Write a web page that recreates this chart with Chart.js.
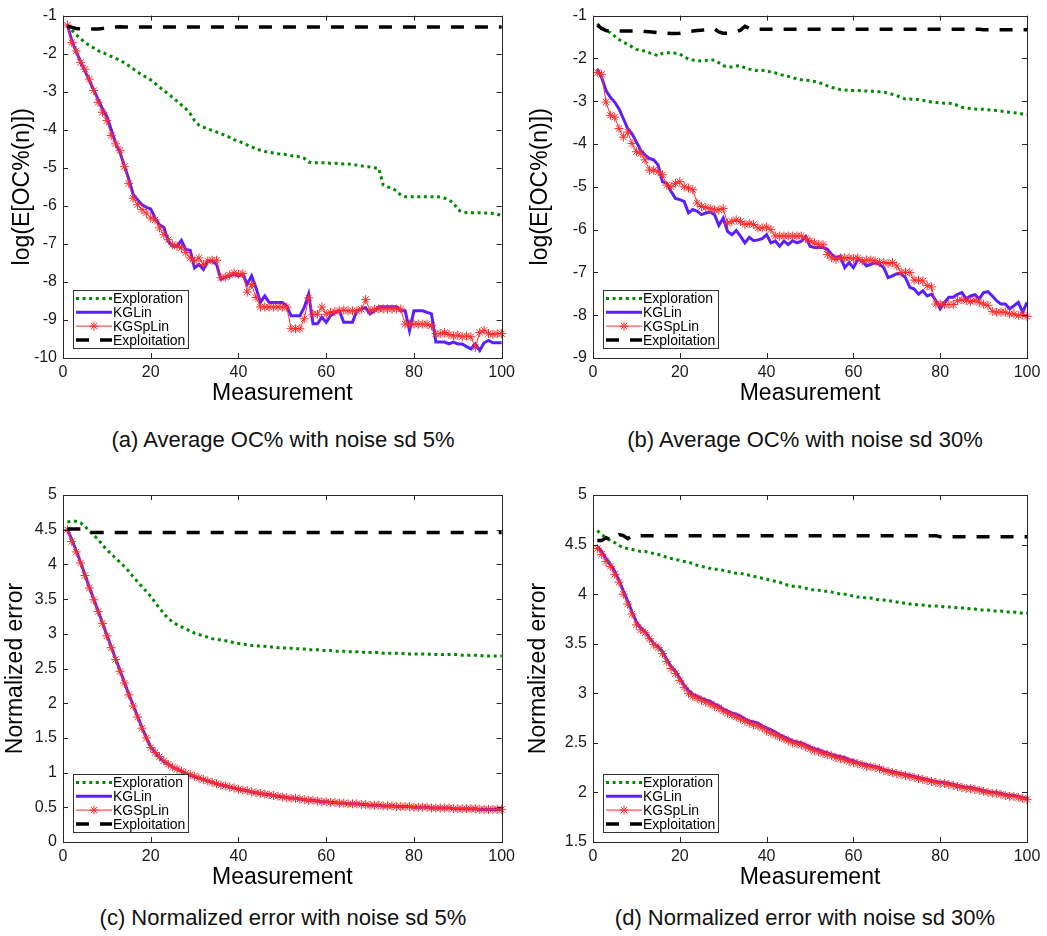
<!DOCTYPE html>
<html><head><meta charset="utf-8">
<script src="https://cdn.jsdelivr.net/npm/chart.js@4.4.0/dist/chart.umd.min.js"></script>
<style>
html,body{margin:0;padding:0;background:#fff;}
body{width:1047px;height:936px;position:relative;overflow:hidden;font-family:"Liberation Sans",Arial,sans-serif;}
.panel{position:absolute;}
.panel canvas{display:block;}
.cap{position:absolute;font-family:"Liberation Sans Narrow","Liberation Sans",sans-serif;font-size:22px;color:#111;white-space:nowrap;transform:translate(-50%,-50%);}
</style></head><body>
<div class="panel" style="left:0;top:0"><canvas id="ca" width="520" height="407"></canvas></div>
<div class="panel" style="left:520px;top:0"><canvas id="cb" width="527" height="407"></canvas></div>
<div class="panel" style="left:0;top:470px"><canvas id="cc" width="520" height="421"></canvas></div>
<div class="panel" style="left:520px;top:470px"><canvas id="cd" width="527" height="421"></canvas></div>
<div class="cap" style="left:283px;top:440px">(a) Average OC% with noise sd 5%</div>
<div class="cap" style="left:805px;top:440px">(b) Average OC% with noise sd 30%</div>
<div class="cap" style="left:283px;top:918px">(c) Normalized error with noise sd 5%</div>
<div class="cap" style="left:805px;top:918px">(d) Normalized error with noise sd 30%</div>
<script>
// ---------- categories / ticks ----------
const measurements = Array.from({length:100},(_,i)=>i+1);
const xTicks = [0,20,40,60,80,100];
const aYTicks = [-10,-9,-8,-7,-6,-5,-4,-3,-2,-1];
const bYTicks = [-9,-8,-7,-6,-5,-4,-3,-2,-1];
const cYTicks = [0,0.5,1,1.5,2,2.5,3,3.5,4,4.5,5];
const dYTicks = [1.5,2,2.5,3,3.5,4,4.5,5];
const seriesNames = ['Exploration','KGLin','KGSpLin','Exploitation'];

// ---------- (a) Average OC% with noise sd 5% ----------
const aExploration = [
-1.25,-1.38,-1.50,-1.60,-1.71,-1.78,-1.85,-1.92,-1.97,-2.02,
-2.07,-2.12,-2.18,-2.24,-2.32,-2.40,-2.48,-2.56,-2.62,-2.69,
-2.78,-2.88,-2.97,-3.06,-3.15,-3.25,-3.35,-3.45,-3.58,-3.76,
-3.88,-3.93,-3.98,-4.02,-4.06,-4.10,-4.15,-4.20,-4.26,-4.30,
-4.35,-4.40,-4.45,-4.50,-4.54,-4.57,-4.59,-4.61,-4.63,-4.64,
-4.66,-4.68,-4.70,-4.71,-4.75,-4.85,-4.87,-4.87,-4.87,-4.87,
-4.88,-4.88,-4.89,-4.90,-4.90,-4.91,-4.93,-4.95,-4.97,-4.98,
-5.00,-5.02,-5.45,-5.50,-5.54,-5.60,-5.72,-5.76,-5.76,-5.76,
-5.76,-5.76,-5.76,-5.76,-5.76,-5.77,-5.80,-5.85,-5.92,-6.10,
-6.16,-6.18,-6.18,-6.18,-6.18,-6.19,-6.19,-6.20,-6.22,-6.25];
const aKGLin = [
-1.25,-1.65,-1.95,-2.20,-2.45,-2.70,-2.95,-3.20,-3.45,-3.65,
-4.00,-4.35,-4.60,-4.95,-5.30,-5.70,-5.84,-5.97,-6.04,-6.08,
-6.32,-6.50,-6.57,-6.93,-7.06,-7.06,-6.91,-7.15,-7.17,-7.63,
-7.54,-7.67,-7.45,-7.45,-7.54,-7.93,-7.88,-7.84,-7.80,-7.84,
-7.80,-8.06,-7.84,-8.15,-8.54,-8.37,-8.54,-8.54,-8.54,-8.54,
-8.63,-8.89,-8.89,-8.89,-8.67,-8.32,-9.10,-9.10,-8.93,-9.06,
-8.89,-8.80,-8.76,-9.06,-9.06,-9.06,-8.76,-8.71,-8.68,-8.84,
-8.76,-8.65,-8.65,-8.65,-8.65,-8.65,-8.76,-8.76,-9.28,-8.76,
-8.76,-8.76,-8.80,-8.84,-9.58,-9.58,-9.58,-9.63,-9.58,-9.63,
-9.63,-9.70,-9.76,-9.63,-9.80,-9.60,-9.54,-9.60,-9.60,-9.60];
const aKGSpLin = [
-1.25,-1.71,-1.93,-2.23,-2.41,-2.67,-2.97,-3.28,-3.54,-3.76,
-4.15,-4.37,-4.54,-4.97,-5.41,-5.80,-5.97,-6.10,-6.19,-6.32,
-6.37,-6.58,-6.76,-6.89,-7.02,-7.06,-7.10,-7.23,-7.37,-7.45,
-7.37,-7.54,-7.45,-7.43,-7.43,-7.89,-7.87,-7.82,-7.76,-7.80,
-7.78,-8.27,-8.07,-8.41,-8.66,-8.66,-8.66,-8.66,-8.66,-8.66,
-8.66,-9.23,-9.23,-9.23,-8.97,-8.42,-8.85,-8.85,-8.66,-8.85,
-8.80,-8.78,-8.76,-8.74,-8.76,-8.76,-8.76,-8.72,-8.46,-8.76,
-8.72,-8.71,-8.71,-8.71,-8.71,-8.71,-8.71,-9.11,-9.11,-9.11,
-9.11,-9.11,-9.11,-9.15,-9.36,-9.36,-9.33,-9.38,-9.42,-9.40,
-9.44,-9.42,-9.44,-9.72,-9.33,-9.27,-9.36,-9.38,-9.36,-9.36];
const aExploitation = [
-1.28,-1.31,-1.34,-1.35,-1.35,-1.35,-1.35,-1.35,-1.34,-1.32,
-1.31,-1.30,-1.29,-1.30,-1.30,-1.30,-1.30,-1.30,-1.30,-1.30,
-1.30,-1.30,-1.30,-1.30,-1.30,-1.30,-1.30,-1.30,-1.30,-1.30,
-1.30,-1.30,-1.30,-1.30,-1.30,-1.30,-1.30,-1.30,-1.30,-1.30,
-1.30,-1.30,-1.30,-1.30,-1.30,-1.30,-1.30,-1.30,-1.30,-1.30,
-1.30,-1.30,-1.30,-1.30,-1.30,-1.30,-1.30,-1.30,-1.30,-1.30,
-1.30,-1.30,-1.30,-1.30,-1.30,-1.30,-1.30,-1.30,-1.30,-1.30,
-1.30,-1.30,-1.30,-1.30,-1.30,-1.30,-1.30,-1.30,-1.30,-1.30,
-1.30,-1.30,-1.30,-1.30,-1.30,-1.30,-1.30,-1.30,-1.30,-1.30,
-1.30,-1.30,-1.30,-1.30,-1.30,-1.30,-1.30,-1.30,-1.30,-1.30];

// ---------- (b) Average OC% with noise sd 30% ----------
const bExploration = [
-1.19,-1.29,-1.35,-1.40,-1.48,-1.56,-1.62,-1.67,-1.73,-1.79,
-1.81,-1.83,-1.87,-1.90,-1.94,-1.88,-1.87,-1.87,-1.88,-1.90,
-1.96,-2.02,-2.04,-2.05,-2.06,-2.05,-2.04,-2.04,-2.10,-2.17,
-2.19,-2.20,-2.18,-2.17,-2.22,-2.25,-2.27,-2.29,-2.28,-2.29,
-2.32,-2.34,-2.37,-2.40,-2.42,-2.45,-2.48,-2.50,-2.51,-2.52,
-2.54,-2.56,-2.60,-2.64,-2.68,-2.70,-2.73,-2.74,-2.75,-2.75,
-2.75,-2.76,-2.76,-2.77,-2.77,-2.78,-2.79,-2.81,-2.84,-2.87,
-2.91,-2.95,-2.95,-2.96,-2.96,-2.98,-3.00,-3.02,-3.03,-3.04,
-3.05,-3.05,-3.06,-3.10,-3.14,-3.16,-3.17,-3.18,-3.19,-3.19,
-3.20,-3.21,-3.22,-3.23,-3.25,-3.26,-3.27,-3.28,-3.30,-3.31];
const bKGLin = [
-2.25,-2.45,-2.75,-2.91,-3.02,-3.18,-3.41,-3.64,-3.76,-3.95,
-4.15,-4.26,-4.34,-4.37,-4.49,-4.88,-4.92,-5.11,-5.27,-5.30,
-5.34,-5.61,-5.53,-5.57,-5.65,-5.61,-5.59,-5.65,-5.90,-5.73,
-6.04,-6.12,-6.02,-6.16,-6.31,-6.18,-6.26,-6.24,-6.21,-6.12,
-6.31,-6.27,-6.39,-6.27,-6.35,-6.26,-6.31,-6.27,-6.16,-6.39,
-6.42,-6.42,-6.42,-6.46,-6.58,-6.66,-6.62,-6.89,-6.77,-6.89,
-6.70,-6.73,-6.85,-6.81,-6.77,-6.81,-6.89,-7.12,-7.08,-7.03,
-7.03,-7.12,-7.35,-7.39,-7.51,-7.43,-7.55,-7.51,-7.66,-7.85,
-7.70,-7.58,-7.58,-7.51,-7.47,-7.62,-7.55,-7.52,-7.62,-7.47,
-7.45,-7.55,-7.66,-7.74,-7.74,-7.85,-7.78,-7.70,-7.93,-7.70];
const bKGSpLin = [
-2.33,-2.37,-3.02,-3.33,-3.37,-3.64,-3.84,-3.72,-3.99,-4.18,
-4.22,-4.37,-4.61,-4.61,-4.65,-4.72,-4.96,-5.00,-4.92,-4.88,
-5.00,-5.03,-5.07,-5.38,-5.46,-5.48,-5.51,-5.54,-5.54,-5.51,
-5.85,-5.81,-5.77,-5.81,-5.88,-5.86,-5.88,-5.96,-5.96,-5.94,
-6.00,-6.15,-6.15,-6.15,-6.15,-6.15,-6.15,-6.15,-6.21,-6.26,
-6.31,-6.35,-6.35,-6.58,-6.66,-6.70,-6.66,-6.66,-6.66,-6.68,
-6.66,-6.73,-6.71,-6.71,-6.73,-6.77,-6.77,-6.79,-6.77,-6.85,
-7.00,-7.00,-7.00,-7.18,-7.18,-7.20,-7.31,-7.34,-7.74,-7.74,
-7.75,-7.75,-7.75,-7.66,-7.64,-7.66,-7.68,-7.65,-7.70,-7.74,
-7.77,-7.91,-7.93,-7.93,-7.93,-7.97,-7.97,-8.01,-7.99,-8.03];
const bExploitation = [
-1.22,-1.30,-1.35,-1.36,-1.36,-1.36,-1.36,-1.36,-1.36,-1.36,
-1.36,-1.37,-1.38,-1.39,-1.40,-1.41,-1.41,-1.42,-1.42,-1.41,
-1.39,-1.37,-1.36,-1.35,-1.34,-1.33,-1.32,-1.31,-1.38,-1.41,
-1.41,-1.40,-1.38,-1.34,-1.25,-1.30,-1.32,-1.32,-1.32,-1.32,
-1.32,-1.32,-1.32,-1.32,-1.32,-1.32,-1.32,-1.32,-1.32,-1.32,
-1.32,-1.32,-1.32,-1.32,-1.32,-1.32,-1.32,-1.32,-1.32,-1.32,
-1.32,-1.32,-1.32,-1.32,-1.32,-1.32,-1.32,-1.32,-1.32,-1.32,
-1.32,-1.32,-1.32,-1.32,-1.32,-1.32,-1.32,-1.32,-1.32,-1.32,
-1.32,-1.32,-1.32,-1.32,-1.32,-1.32,-1.32,-1.32,-1.32,-1.33,
-1.33,-1.33,-1.33,-1.33,-1.33,-1.33,-1.33,-1.33,-1.33,-1.33];

// ---------- (c) Normalized error with noise sd 5% ----------
const cExploration = [
4.61,4.62,4.62,4.60,4.55,4.48,4.42,4.36,4.28,4.21,
4.15,4.09,4.03,3.97,3.90,3.82,3.75,3.68,3.61,3.54,
3.45,3.37,3.29,3.22,3.17,3.13,3.10,3.07,3.04,3.01,
2.99,2.97,2.95,2.93,2.92,2.91,2.90,2.89,2.87,2.86,
2.85,2.84,2.83,2.83,2.82,2.82,2.81,2.81,2.80,2.80,
2.79,2.79,2.79,2.78,2.78,2.77,2.77,2.77,2.76,2.76,
2.76,2.75,2.75,2.75,2.74,2.74,2.74,2.74,2.73,2.73,
2.73,2.73,2.72,2.72,2.72,2.72,2.72,2.71,2.71,2.71,
2.71,2.71,2.71,2.70,2.70,2.70,2.70,2.70,2.70,2.70,
2.69,2.69,2.69,2.69,2.69,2.68,2.68,2.68,2.68,2.68];
const cKGLin = [
4.50,4.36,4.20,4.03,3.85,3.67,3.50,3.33,3.16,2.98,
2.81,2.64,2.47,2.30,2.13,1.97,1.81,1.65,1.50,1.37,
1.29,1.22,1.16,1.12,1.08,1.05,1.02,0.99,0.96,0.94,
0.92,0.90,0.88,0.86,0.84,0.82,0.81,0.79,0.78,0.76,
0.75,0.74,0.72,0.71,0.70,0.69,0.68,0.67,0.66,0.65,
0.64,0.63,0.63,0.62,0.61,0.60,0.60,0.59,0.58,0.58,
0.57,0.57,0.56,0.56,0.55,0.55,0.55,0.54,0.54,0.53,
0.53,0.53,0.52,0.52,0.52,0.51,0.51,0.51,0.51,0.50,
0.50,0.50,0.50,0.49,0.49,0.49,0.49,0.49,0.48,0.48,
0.48,0.48,0.48,0.48,0.47,0.47,0.47,0.47,0.47,0.47];
const cKGSpLin = [
4.50,4.33,4.18,4.02,3.84,3.66,3.49,3.32,3.15,2.97,
2.80,2.63,2.46,2.29,2.12,1.96,1.80,1.64,1.50,1.36,
1.29,1.23,1.17,1.12,1.08,1.05,1.02,0.99,0.97,0.95,
0.92,0.90,0.88,0.86,0.84,0.82,0.81,0.79,0.78,0.76,
0.75,0.74,0.72,0.71,0.70,0.69,0.68,0.67,0.66,0.65,
0.64,0.63,0.63,0.62,0.61,0.60,0.60,0.59,0.58,0.58,
0.57,0.57,0.56,0.56,0.55,0.55,0.55,0.54,0.54,0.53,
0.53,0.53,0.52,0.52,0.52,0.51,0.51,0.51,0.51,0.50,
0.50,0.50,0.50,0.49,0.49,0.49,0.49,0.49,0.48,0.48,
0.48,0.48,0.48,0.48,0.47,0.47,0.47,0.47,0.47,0.47];
const cExploitation = [
4.51,4.51,4.51,4.51,4.49,4.46,4.46,4.46,4.46,4.46,
4.46,4.46,4.46,4.46,4.46,4.46,4.46,4.46,4.46,4.46,
4.46,4.46,4.46,4.46,4.46,4.46,4.46,4.46,4.46,4.46,
4.46,4.46,4.46,4.46,4.46,4.46,4.46,4.46,4.46,4.46,
4.46,4.46,4.46,4.46,4.46,4.46,4.46,4.46,4.46,4.46,
4.46,4.46,4.46,4.46,4.46,4.46,4.46,4.46,4.46,4.46,
4.46,4.46,4.46,4.46,4.46,4.46,4.46,4.46,4.46,4.46,
4.46,4.46,4.46,4.46,4.46,4.46,4.46,4.46,4.46,4.46,
4.46,4.46,4.46,4.46,4.46,4.46,4.46,4.46,4.46,4.46,
4.46,4.46,4.46,4.46,4.46,4.46,4.46,4.46,4.46,4.46];

// ---------- (d) Normalized error with noise sd 30% ----------
const dExploration = [
4.64,4.60,4.57,4.54,4.52,4.49,4.47,4.46,4.45,4.44,
4.43,4.43,4.42,4.41,4.40,4.39,4.37,4.36,4.35,4.34,
4.33,4.32,4.31,4.29,4.28,4.27,4.26,4.25,4.25,4.24,
4.23,4.22,4.21,4.21,4.20,4.19,4.18,4.17,4.16,4.15,
4.14,4.13,4.12,4.10,4.09,4.08,4.08,4.07,4.06,4.05,
4.04,4.04,4.03,4.03,4.02,4.01,4.00,4.00,3.99,3.98,
3.97,3.97,3.96,3.96,3.95,3.94,3.94,3.93,3.93,3.92,
3.91,3.91,3.90,3.90,3.89,3.89,3.88,3.88,3.88,3.88,
3.87,3.87,3.87,3.86,3.86,3.86,3.85,3.85,3.84,3.84,
3.84,3.83,3.83,3.83,3.82,3.82,3.82,3.81,3.81,3.81];
const dKGLin = [
4.48,4.43,4.36,4.30,4.23,4.14,4.03,3.93,3.82,3.72,
3.66,3.62,3.56,3.50,3.47,3.42,3.34,3.27,3.22,3.15,
3.08,3.03,2.99,2.97,2.95,2.93,2.92,2.89,2.87,2.84,
2.82,2.80,2.79,2.77,2.74,2.72,2.71,2.70,2.67,2.65,
2.63,2.61,2.58,2.56,2.54,2.52,2.51,2.50,2.48,2.46,
2.44,2.43,2.41,2.40,2.38,2.37,2.36,2.35,2.33,2.32,
2.30,2.29,2.28,2.27,2.26,2.25,2.23,2.22,2.21,2.20,
2.19,2.18,2.17,2.16,2.15,2.14,2.13,2.12,2.11,2.10,
2.10,2.09,2.08,2.07,2.06,2.05,2.05,2.04,2.03,2.02,
2.01,2.00,2.00,1.99,1.98,1.97,1.97,1.96,1.95,1.94];
const dKGSpLin = [
4.46,4.40,4.33,4.28,4.20,4.12,4.00,3.90,3.80,3.69,
3.64,3.61,3.55,3.49,3.46,3.40,3.32,3.25,3.20,3.13,
3.06,3.00,2.97,2.95,2.93,2.91,2.89,2.87,2.85,2.82,
2.80,2.78,2.76,2.74,2.72,2.70,2.68,2.67,2.65,2.62,
2.60,2.58,2.56,2.54,2.52,2.50,2.49,2.48,2.46,2.44,
2.42,2.41,2.39,2.38,2.37,2.35,2.34,2.33,2.31,2.30,
2.29,2.28,2.26,2.26,2.25,2.24,2.22,2.21,2.20,2.19,
2.18,2.17,2.16,2.15,2.14,2.13,2.12,2.11,2.10,2.09,
2.09,2.08,2.07,2.06,2.05,2.04,2.04,2.03,2.02,2.01,
2.00,1.99,1.99,1.98,1.97,1.96,1.96,1.95,1.94,1.93];
const dExploitation = [
4.54,4.54,4.57,4.55,4.58,4.60,4.59,4.56,4.59,4.59,
4.59,4.59,4.59,4.59,4.59,4.59,4.59,4.59,4.59,4.59,
4.59,4.59,4.59,4.59,4.59,4.59,4.59,4.59,4.59,4.59,
4.59,4.59,4.59,4.59,4.59,4.59,4.59,4.59,4.59,4.59,
4.59,4.59,4.59,4.59,4.59,4.59,4.59,4.59,4.59,4.59,
4.59,4.59,4.59,4.59,4.59,4.59,4.59,4.59,4.59,4.59,
4.59,4.59,4.59,4.59,4.59,4.59,4.59,4.59,4.59,4.59,
4.59,4.59,4.59,4.59,4.59,4.59,4.59,4.59,4.59,4.58,
4.58,4.58,4.58,4.58,4.58,4.58,4.58,4.58,4.58,4.58,
4.58,4.58,4.58,4.58,4.58,4.58,4.58,4.58,4.58,4.58];

// ---------- drawing ----------
const FONT = '"Liberation Sans", Arial, sans-serif';
const TEXT = '#1a1a1a';

function toPoints(values){ return values.map((v,i)=>({x:measurements[i], y:v})); }

function makeDatasets(explore, kglin, kgsplin, exploit){
  return [
    {label:seriesNames[0], data:toPoints(explore), borderColor:'#008a00', borderWidth:3, borderDash:[3,3.6], borderCapStyle:'butt', pointRadius:0, order:4},
    {label:seriesNames[1], data:toPoints(kglin), borderColor:'#5a1fff', borderWidth:3, pointRadius:0, order:3},
    {label:seriesNames[2], data:toPoints(kgsplin), borderColor:'#ff2b2b', borderWidth:1, pointStyle:'star', pointRadius:4.5, pointBorderColor:'#ff2b2b', pointBackgroundColor:'#ff2b2b', pointBorderWidth:1, order:2},
    {label:seriesNames[3], data:toPoints(exploit), borderColor:'#000000', borderWidth:3.5, borderDash:[13,11], borderCapStyle:'butt', pointRadius:0, order:1}
  ];
}

const framePlugin = {
  id:'matlabFrame',
  afterDraw(chart){
    const {ctx, chartArea:a, scales:{x, y}} = chart;
    ctx.save();
    ctx.setLineDash([]);
    ctx.strokeStyle = '#262626';
    ctx.lineWidth = 1;
    ctx.beginPath();
    const L = 5;
    x.ticks.forEach(t=>{
      const p = Math.round(x.getPixelForValue(t.value)) + 0.5;
      ctx.moveTo(p, a.bottom); ctx.lineTo(p, a.bottom - L);
      ctx.moveTo(p, a.top); ctx.lineTo(p, a.top + L);
    });
    y.ticks.forEach(t=>{
      const p = Math.round(y.getPixelForValue(t.value)) + 0.5;
      ctx.moveTo(a.left, p); ctx.lineTo(a.left + L, p);
      ctx.moveTo(a.right, p); ctx.lineTo(a.right - L, p);
    });
    ctx.stroke();
    ctx.strokeRect(Math.round(a.left) + 0.5, Math.round(a.top) + 0.5, Math.round(a.right - a.left), Math.round(a.bottom - a.top));

    // inset legend (bottom-left, MATLAB style)
    const bw = 115, bh = 58;
    const bx = Math.round(a.left) + 10, by = Math.round(a.bottom) - 10 - bh;
    ctx.fillStyle = '#ffffff';
    ctx.fillRect(bx, by, bw, bh);
    ctx.strokeStyle = '#333333';
    ctx.strokeRect(bx + 0.5, by + 0.5, bw, bh);
    chart.data.datasets.forEach((ds, i)=>{
      const yy = by + 8.5 + i * 13.8;
      ctx.save();
      ctx.strokeStyle = ds.borderColor;
      ctx.lineWidth = ds.borderWidth;
      ctx.lineCap = 'butt';
      ctx.setLineDash(ds.borderDash || []);
      ctx.beginPath(); ctx.moveTo(bx + 3, yy); ctx.lineTo(bx + 39, yy); ctx.stroke();
      if (ds.pointStyle) {
        ctx.setLineDash([]);
        ctx.lineWidth = 1;
        ctx.strokeStyle = ds.pointBorderColor;
        ctx.fillStyle = ds.pointBackgroundColor;
        Chart.helpers.drawPoint(ctx, {pointStyle: ds.pointStyle, radius: 4.5, borderWidth: 1, rotation: 0}, bx + 21, yy);
      }
      ctx.restore();
      ctx.fillStyle = '#000';
      ctx.font = '14px ' + FONT;
      ctx.textBaseline = 'middle';
      ctx.textAlign = 'left';
      ctx.fillText(ds.label, bx + 40, yy + 1);
    });
    ctx.restore();
  }
};

function makeChart(id, cfg){
  const canvas = document.getElementById(id);
  const W = canvas.width, H = canvas.height;
  return new Chart(canvas, {
    type:'line',
    data:{datasets: makeDatasets(cfg.explore, cfg.kglin, cfg.kgsplin, cfg.exploit)},
    options:{
      responsive:false, animation:false, devicePixelRatio:1,
      layout:{padding:{top:cfg.top, right:W - cfg.right, left:0, bottom:0}},
      plugins:{legend:{display:false}, tooltip:{enabled:false}},
      elements:{line:{tension:0}},
      datasets:{line:{clip:8}},
      scales:{
        x:{
          type:'linear', min:0, max:100,
          afterBuildTicks: s => { s.ticks = xTicks.map(v=>({value:v})); },
          afterFit: s => { s.height = H - cfg.bottom; },
          grid:{display:false, drawTicks:false}, border:{display:false},
          ticks:{padding:5, color:TEXT, font:{family:FONT, size:16}, callback: v => String(v), maxRotation:0},
          title:{display:true, text:'Measurement', color:'#000', font:{family:FONT, size:23, lineHeight:1.2}, padding:{top:0, bottom:0}}
        },
        y:{
          type:'linear', min:cfg.yTicks[0], max:cfg.yTicks[cfg.yTicks.length-1],
          afterBuildTicks: s => { s.ticks = cfg.yTicks.map(v=>({value:v})); },
          afterFit: s => { s.width = cfg.left; },
          grid:{display:false, drawTicks:false}, border:{display:false},
          ticks:{padding:6, color:TEXT, font:{family:FONT, size:16}, callback: v => String(v)},
          title:{display:true, text:cfg.yTitle, color:'#000', font:{family:FONT, size:23, lineHeight:1.2}, padding:{top:cfg.titlePad, bottom:0}}
        }
      }
    },
    plugins:[framePlugin]
  });
}

makeChart('ca', {explore:aExploration, kglin:aKGLin, kgsplin:aKGSpLin, exploit:aExploitation,
  yTicks:aYTicks, yTitle:'log(E[OC%(n)])', left:63, right:502, top:13, bottom:358, titlePad:9});
makeChart('cb', {explore:bExploration, kglin:bKGLin, kgsplin:bKGSpLin, exploit:bExploitation,
  yTicks:bYTicks, yTitle:'log(E[OC%(n)])', left:73, right:507, top:13, bottom:358, titlePad:7});
makeChart('cc', {explore:cExploration, kglin:cKGLin, kgsplin:cKGSpLin, exploit:cExploitation,
  yTicks:cYTicks, yTitle:'Normalized error', left:63, right:502, top:25, bottom:372, titlePad:2});
makeChart('cd', {explore:dExploration, kglin:dKGLin, kgsplin:dKGSpLin, exploit:dExploitation,
  yTicks:dYTicks, yTitle:'Normalized error', left:73, right:507, top:25, bottom:372, titlePad:5});
</script>
</body></html>
